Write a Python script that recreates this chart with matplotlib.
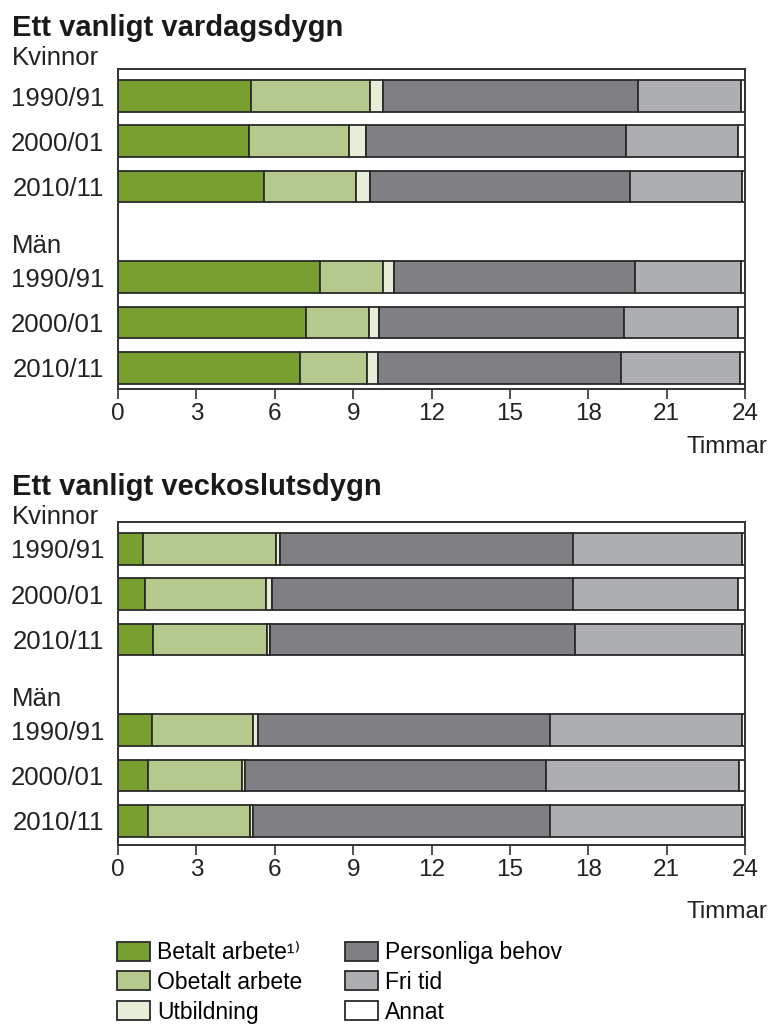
import matplotlib
matplotlib.use("Agg")
import matplotlib.pyplot as plt
from matplotlib.patches import Patch

plt.rcParams['font.family'] = ['Liberation Sans', 'DejaVu Sans']

# ---------------- data (hours per day) ----------------
years = ["1990/91", "2000/01", "2010/11"]
groups = ["Kvinnor", "Män"]
categories = ["Betalt arbete¹⁾", "Obetalt arbete", "Utbildning",
              "Personliga behov", "Fri tid", "Annat"]

# Ett vanligt vardagsdygn
wd_kv_betalt = [5.1, 5.0, 5.6]
wd_kv_obetalt = [4.55, 3.85, 3.5]
wd_kv_utb = [0.5, 0.65, 0.55]
wd_kv_pers = [9.75, 9.95, 9.95]
wd_kv_fri = [3.95, 4.3, 4.3]
wd_kv_annat = [0.15, 0.25, 0.1]

wd_man_betalt = [7.75, 7.2, 6.95]
wd_man_obetalt = [2.4, 2.4, 2.6]
wd_man_utb = [0.4, 0.4, 0.4]
wd_man_pers = [9.25, 9.35, 9.3]
wd_man_fri = [4.05, 4.4, 4.55]
wd_man_annat = [0.15, 0.25, 0.2]

# Ett vanligt veckoslutsdygn
we_kv_betalt = [0.95, 1.05, 1.35]
we_kv_obetalt = [5.1, 4.6, 4.35]
we_kv_utb = [0.15, 0.25, 0.1]
we_kv_pers = [11.2, 11.5, 11.7]
we_kv_fri = [6.5, 6.35, 6.4]
we_kv_annat = [0.1, 0.25, 0.1]

we_man_betalt = [1.3, 1.15, 1.15]
we_man_obetalt = [3.85, 3.6, 3.9]
we_man_utb = [0.2, 0.12, 0.1]
we_man_pers = [11.2, 11.5, 11.4]
we_man_fri = [7.35, 7.4, 7.35]
we_man_annat = [0.1, 0.23, 0.1]

xticks = [0, 3, 6, 9, 12, 15, 18, 21, 24]

colors = ["#77a030", "#b6c98d", "#e6eed8", "#808084", "#adaeb2", "#ffffff"]
edge = "#2a2a2a"

W, H = 770, 1029
fig = plt.figure(figsize=(W / 100, H / 100), dpi=100)


def fx(x):
    return x / W


def fy(y):
    return 1 - y / H


def panel(top, bottom, kv, man, title, ty, kvy, many, timy):
    ax = fig.add_axes([fx(118), fy(bottom), fx(745) - fx(118), (bottom - top) / H])
    ypos_kv = [0, 1, 2]
    ypos_man = [4, 5, 6]
    for ypos, series in ((ypos_kv, kv), (ypos_man, man)):
        left = [0.0] * 3
        for vals, col in zip(series, colors):
            ax.barh(ypos, vals, left=left, height=0.7, color=col,
                    edgecolor=edge, linewidth=1.3)
            left = [l + v for l, v in zip(left, vals)]
    # y range derived from pixel layout (bar spacing ~45.3 px)
    ax.set_ylim((bottom - (top + 27)) / 45.3, -27 / 45.3)
    ax.set_xlim(0, 24)
    ax.set_xticks(xticks)
    ax.set_xticklabels([str(t) for t in xticks], fontsize=17.5, color="#222")
    ax.set_yticks(ypos_kv + ypos_man)
    ax.set_yticklabels(years + years, fontsize=18.5, color="#222")
    ax.tick_params(axis='y', length=0, pad=10)
    ax.tick_params(axis='x', length=7, width=1.2, direction='out', pad=3,
                   color="#333")
    for s in ax.spines.values():
        s.set_color("#333")
        s.set_linewidth(1.4)
    fig.text(fx(12), fy(ty), title, fontsize=21, fontweight='bold',
             va='center', ha='left', color="#1a1a1a")
    fig.text(fx(12), fy(kvy), groups[0], fontsize=18.5, va='center',
             ha='left', color="#222")
    fig.text(fx(12), fy(many), groups[1], fontsize=18.5, va='center',
             ha='left', color="#222")
    fig.text(fx(767), fy(timy), "Timmar", fontsize=17.5, va='center',
             ha='right', color="#222")
    return ax


panel(69, 389,
      [wd_kv_betalt, wd_kv_obetalt, wd_kv_utb, wd_kv_pers, wd_kv_fri, wd_kv_annat],
      [wd_man_betalt, wd_man_obetalt, wd_man_utb, wd_man_pers, wd_man_fri, wd_man_annat],
      "Ett vanligt vardagsdygn", 28, 58, 246, 447)

panel(522, 845,
      [we_kv_betalt, we_kv_obetalt, we_kv_utb, we_kv_pers, we_kv_fri, we_kv_annat],
      [we_man_betalt, we_man_obetalt, we_man_utb, we_man_pers, we_man_fri, we_man_annat],
      "Ett vanligt veckoslutsdygn", 487, 517, 699, 912)

handles = [Patch(facecolor=c, edgecolor=edge, linewidth=1.3, label=l)
           for c, l in zip(colors, categories)]
fig.legend(handles=handles, ncol=2, loc='upper left',
           bbox_to_anchor=(fx(117), fy(941)), frameon=False,
           fontsize=16.5, handlelength=1.45, handleheight=0.9,
           handletextpad=0.3, columnspacing=1.85, labelspacing=0.3,
           borderpad=0, borderaxespad=0)

fig.savefig("out.png", dpi=100)
